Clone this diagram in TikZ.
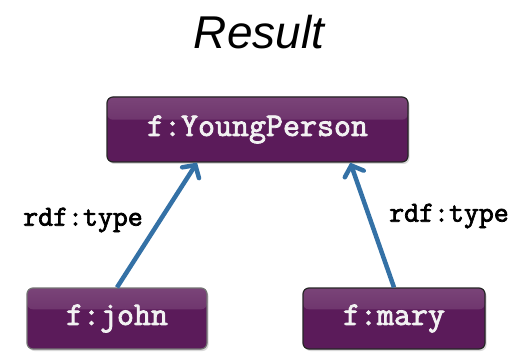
\documentclass[tikz,border=0pt]{standalone}
\usepackage{fontspec}
\setmainfont{Liberation Sans}
\newfontfamily\codefont{Latin Modern Mono}[AutoFakeBold=2.5]
\usetikzlibrary{arrows.meta,shadows,calc}
\definecolor{termfill}{HTML}{5B1B5A}
\definecolor{termhi}{HTML}{7A4478}
\definecolor{termtext}{HTML}{F2F2F2}
\definecolor{linkblue}{HTML}{3471A6}
\tikzset{
  term/.style={draw=black!85, line width=1.2pt, fill=termfill, rounded corners=6pt,
    text=termtext, font=\codefont\bfseries\fontsize{33}{35}\selectfont,
    inner sep=0pt,
    drop shadow={shadow xshift=1.5pt, shadow yshift=-2pt, opacity=0.3},
    path picture={
      \shade[top color=termhi, bottom color=termfill]
        (path picture bounding box.north west) rectangle
        ($(path picture bounding box.north east)!0.35!(path picture bounding box.south east)$);
    }},
  link/.style={draw=linkblue, line width=4.5pt,
    -{Straight Barb[length=9pt, width=20pt, line width=4.5pt, line cap=round]}},
  prop/.style={font=\codefont\bfseries\fontsize{29}{31}\selectfont, text=black},
}
\begin{document}
\begin{tikzpicture}[x=1pt,y=1pt]
  \useasboundingbox (0,0) rectangle (514,351);
  \node[font=\itshape\fontsize{46}{50}\selectfont] (title) at (259,319) {Result};
  \node[term, minimum width=301pt, minimum height=65pt] (yp) at (257.5,221.5) {f:YoungPerson};
  \node[term, minimum width=180pt, minimum height=61pt, draw=black!55] (john) at (117,32.5) {f:john};
  \node[term, minimum width=182pt, minimum height=61pt] (mary) at (394,32.5) {f:mary};
  \draw[link] (john.north) -- ($(yp.south west)!0.30!(yp.south east)$);
  \draw[link] (mary.north) -- ($(yp.south west)!0.807!(yp.south east)$);
  \node[prop] (lt) at (83,131) {rdf:type};
  \node[prop] (rt) at (449,135) {rdf:type};
\end{tikzpicture}
\end{document}
